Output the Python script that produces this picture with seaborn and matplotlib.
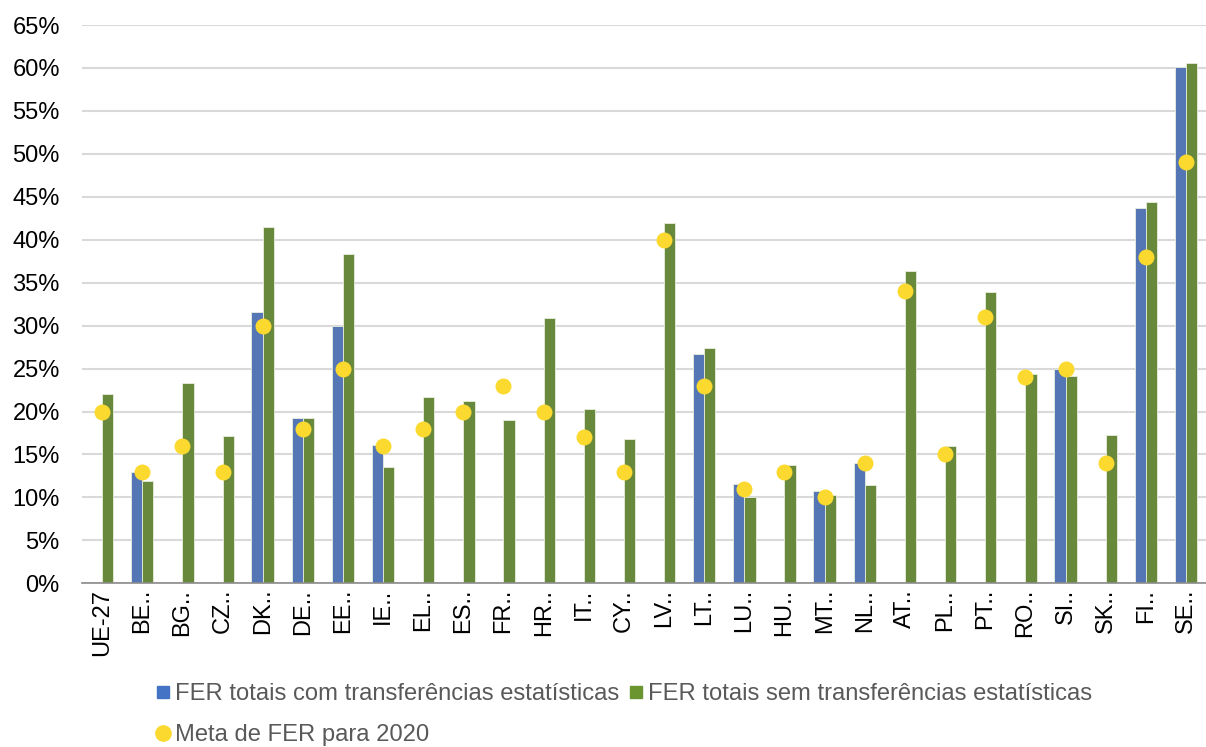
import numpy as np
import pandas as pd
import matplotlib
matplotlib.use("Agg")
import matplotlib.pyplot as plt
import seaborn as sns
from matplotlib.lines import Line2D
from matplotlib.ticker import FuncFormatter

categories = ["UE-27", "BE", "BG", "CZ", "DK", "DE", "EE", "IE", "EL", "ES", "FR", "HR", "IT", "CY",
              "LV", "LT", "LU", "HU", "MT", "NL", "AT", "PL", "PT", "RO", "SI", "SK", "FI", "SE"]
tick_labels = ["UE-27"] + [c + ".." for c in categories[1:]]
nan = np.nan
fer_com = [nan, 12.9, nan, nan, 31.6, 19.3, 30.0, 16.1, nan, nan, nan, nan, nan, nan,
           nan, 26.7, 11.6, nan, 10.7, 14.0, nan, nan, nan, nan, 24.9, nan, 43.7, 60.1]
fer_sem = [22.0, 11.9, 23.3, 17.2, 41.5, 19.2, 38.3, 13.5, 21.7, 21.2, 19.0, 30.9, 20.3, 16.8,
           42.0, 27.4, 10.1, 13.8, 10.3, 11.4, 36.4, 16.0, 33.9, 24.4, 24.1, 17.3, 44.4, 60.6]
meta_2020 = [20, 13, 16, 13, 30, 18, 25, 16, 18, 20, 23, 20, 17, 13,
             40, 23, 11, 13, 10, 14, 34, 15, 31, 24, 25, 14, 38, 49]
series_names = ["FER totais com transferências estatísticas",
                "FER totais sem transferências estatísticas"]
meta_name = "Meta de FER para 2020"

BLUE = "#4472C4"
GREEN = "#6A952F"
YELLOW = "#FBD92F"

sns.set_style("white")
plt.rcParams["font.family"] = ["Liberation Sans", "DejaVu Sans"]

df = pd.DataFrame({
    "cat": categories * 2,
    "series": [series_names[0]] * len(categories) + [series_names[1]] * len(categories),
    "val": fer_com + fer_sem,
})

fig = plt.figure(figsize=(12.06, 7.47), dpi=100)
ax = fig.add_axes([82 / 1206, (747 - 583.3) / 747, 1124 / 1206, 558.3 / 747])

sns.barplot(data=df, x="cat", y="val", hue="series", order=categories, hue_order=series_names,
            palette=[BLUE, GREEN], width=0.56, gap=0, errorbar=None, edgecolor="#E8EEDD",
            linewidth=0.6, ax=ax, legend=False, zorder=2)
sns.stripplot(x=categories, y=meta_2020, order=categories, jitter=False, color=YELLOW,
              size=11.5, linewidth=0, ax=ax, zorder=4)

ax.set_ylim(0, 65)
ax.set_xlim(-0.5, len(categories) - 0.5)
ax.set_yticks(np.arange(0, 66, 5))
ax.yaxis.set_major_formatter(FuncFormatter(lambda v, p: f"{v:.0f}%"))
ax.set_xticks(range(len(categories)))
ax.set_xticklabels(tick_labels, rotation=90, fontsize=17, color="black")
ax.tick_params(axis="y", labelsize=17, labelcolor="black", length=0, pad=16)
ax.tick_params(axis="x", length=0, pad=4)
ax.grid(axis="y", color="#D9D9D9", linewidth=1.5, zorder=0)
ax.set_axisbelow(True)
ax.set_xlabel("")
ax.set_ylabel("")
for s in ["left", "right", "top"]:
    ax.spines[s].set_visible(False)
ax.spines["bottom"].set_color("#8C8C8C")
ax.spines["bottom"].set_linewidth(1.2)

handles = [
    Line2D([], [], marker="s", linestyle="none", color=BLUE, markersize=8.5),
    Line2D([], [], marker="o", linestyle="none", color=YELLOW, markersize=11),
    Line2D([], [], marker="s", linestyle="none", color=GREEN, markersize=8.5),
]
labels = [series_names[0], meta_name, series_names[1]]
fig.legend(handles, labels, ncol=2, loc="upper left", bbox_to_anchor=(155 / 1206, 1 - 683 / 747),
           frameon=False, fontsize=17.1, labelcolor="#595959", handlelength=0.7,
           handletextpad=0.15, columnspacing=0.35, labelspacing=0.82, borderpad=0, borderaxespad=0)

fig.savefig("out.png", dpi=100)
